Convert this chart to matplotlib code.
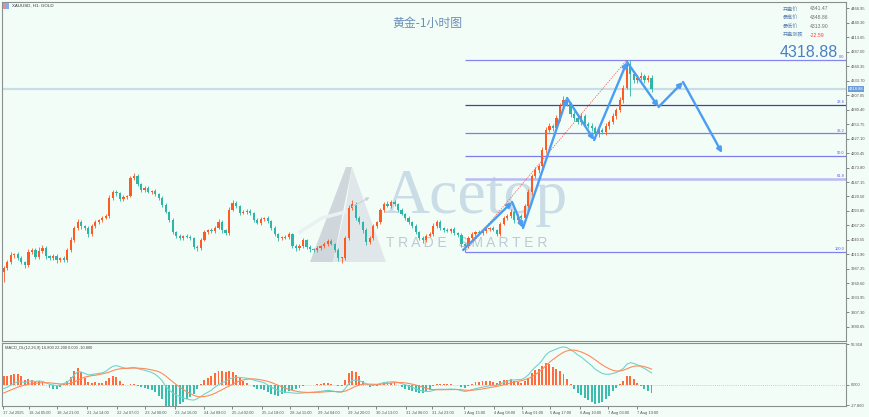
import numpy as np
import matplotlib
matplotlib.use("Agg")
import matplotlib.pyplot as plt
from matplotlib.patches import Polygon, Rectangle

# ---- values (2-hour candles) ----
first_open = 3981.7
closes = [
    3989.1, 4000.1, 4013.0, 4014.8, 4007.5, 4000.1, 3994.6, 4018.5, 4022.2, 4009.3,
    4020.3, 4025.8, 4011.1, 4007.5, 4011.1, 4003.8, 4007.5, 4003.8, 4022.2, 4040.5,
    4062.6, 4073.6, 4066.3, 4062.6, 4051.6, 4066.3, 4073.6, 4077.3, 4081.0, 4084.6,
    4117.7, 4128.8, 4126.9, 4115.9, 4119.6, 4121.4, 4154.5, 4158.2, 4143.5, 4132.4,
    4136.1, 4128.8, 4130.6, 4125.1, 4117.7, 4104.9, 4092.0, 4077.3, 4055.2, 4047.9,
    4044.2, 4047.9, 4046.0, 4044.2, 4027.7, 4025.8, 4040.5, 4055.2, 4058.9, 4057.1,
    4062.6, 4073.6, 4058.9, 4053.4, 4095.7, 4108.5, 4103.0, 4090.2, 4092.0, 4093.8,
    4090.2, 4077.3, 4071.8, 4079.1, 4081.0, 4075.5, 4062.6, 4051.6, 4044.2, 4044.2,
    4046.0, 4051.6, 4029.5, 4025.8, 4029.5, 4040.5, 4027.7, 4024.0, 4022.2, 4025.8,
    4029.5, 4033.2, 4038.7, 4033.2, 4022.2, 4007.5, 4007.5, 4044.2, 4099.4, 4106.7,
    4081.0, 4073.6, 4058.9, 4036.7, 4044.2, 4066.3, 4073.6, 4095.7, 4106.7, 4103.0,
    4110.4, 4106.7, 4095.7, 4088.3, 4081.0, 4073.6, 4066.3, 4055.2, 4044.2, 4040.5,
    4047.9, 4051.6, 4066.3, 4073.6, 4062.6, 4058.9, 4057.1, 4060.8, 4053.4, 4049.7,
    4033.2, 4029.5, 4044.2, 4051.6, 4055.2, 4053.4, 4057.1, 4060.8, 4062.6, 4058.9,
    4051.6, 4069.9, 4081.0, 4084.6, 4092.0, 4077.3, 4084.6, 4081.0, 4103.0, 4128.8,
    4158.2, 4169.2, 4176.5, 4206.0, 4242.7, 4250.1, 4246.4, 4264.8, 4286.9, 4297.9,
    4290.5, 4272.1, 4264.8, 4257.4, 4268.5, 4253.8, 4250.1, 4246.4, 4235.4, 4242.7,
    4239.0, 4250.1, 4257.4, 4268.5, 4279.5, 4297.9, 4320.0, 4364.0, 4345.7, 4334.6,
    4338.3, 4342.0, 4334.6, 4338.3, 4318.9]

upper_wick = [
    4, 3, 5, 2, 4, 3, 2, 6, 3, 4,
    8, 5, 3, 2, 4, 3, 2, 3, 4, 5,
    4, 6, 3, 2, 3, 4, 3, 2, 4, 3,
    5, 4, 3, 2, 3, 2, 4, 5.5, 3, 2,
    3, 4, 2, 3, 2, 3, 4, 2, 3, 2,
    3, 2, 4, 3, 2, 3, 4, 3, 2, 3,
    4, 6, 3, 2, 5, 6, 3, 2, 3, 4,
    3, 2, 3, 4, 2, 3, 2, 3, 2, 3,
    4, 3, 2, 3, 4, 3, 2, 3, 2, 3,
    2, 3, 4, 3, 2, 3, 2, 4, 5, 8,
    4, 3, 2, 3, 4, 3, 2, 4, 3, 5,
    4, 3, 2, 3, 2, 3, 2, 3, 2, 3,
    4, 3, 5, 4, 3, 2, 3, 2, 3, 2,
    3, 2, 4, 3, 2, 3, 4, 3, 2, 3,
    2, 4, 3, 4, 5, 3, 4, 3, 4, 5,
    4, 5, 4, 6, 5, 6, 4, 5, 6, 7.3,
    5, 4, 6, 4, 6, 4, 3, 5, 4, 6,
    4, 5, 4, 5, 4, 6, 5, 7.4, 8, 6,
    5, 7, 4, 6, 5]

lower_wick = [
    18, 4, 3, 5, 3, 4, 5, 3, 4, 3,
    4, 3, 5, 4, 3, 6, 4, 3, 4, 3,
    3, 4, 5, 3, 6, 4, 3, 4, 3, 2,
    3, 4, 5, 3, 4, 3, 2, 4, 3, 4,
    3, 2, 4, 3, 4, 3, 2, 3, 4, 3,
    4, 3, 2, 3, 4, 5, 3, 2, 3, 4,
    3, 2, 5, 4, 3, 2, 4, 3, 2, 3,
    4, 3, 2, 3, 4, 3, 4, 3, 5, 3,
    2, 3, 4, 5, 3, 4, 3, 5, 3, 4,
    3, 4, 3, 2, 4, 5, 9, 3, 4, 3,
    4, 3, 5, 6, 3, 4, 3, 4, 3, 2,
    3, 4, 3, 2, 4, 3, 4, 3, 4, 5,
    3, 2, 4, 3, 4, 3, 2, 4, 3, 4,
    5, 11, 3, 4, 3, 2, 3, 4, 3, 2,
    4, 3, 2, 3, 4, 5, 3, 4, 3, 4,
    5, 4, 6, 5, 6, 4, 5, 4, 6, 5,
    4, 6, 5, 4, 6, 5, 4, 6, 9, 5,
    4, 5, 6, 4, 5, 4, 6, 2, 40, 5,
    6, 4, 5, 4, 6]

# MACD_DL(12,26,9): DIF and DEA lines
dif = [
    -5, -3, 0, 2.5, 4.5, 4.5, 3.5, 5, 5.5, 5,
    5.5, 5, 3, 1, 0, -1, 0, 2, 4, 8,
    14, 18.5, 18, 16, 14, 14.5, 15.5, 16, 17, 19,
    23, 26, 27, 25.5, 24, 23, 24, 24.5, 23, 21.5,
    20.5, 19, 17.5, 15, 11, 6, -2, -7, -11, -14,
    -16, -18, -19.5, -20.5, -21, -19, -16, -12.5, -10, -7,
    -3, 0.5, 3, 5, 8, 10, 10.5, 10.5, 10, 9.5,
    8.5, 7, 5.5, 4.5, 3, 0, -3, -5.5, -8, -9,
    -10, -10.5, -11, -11.5, -11.5, -11, -10.5, -10.5, -10, -9.5,
    -9, -8, -7.5, -8, -9, -10, -10, -5, 2, 6,
    7, 6, 4, 1.5, 0, 0, 0.5, 2, 3.5, 4,
    4.5, 4.5, 3.5, 2, 0.5, -1.5, -3, -5, -7, -8.5,
    -9, -9, -7.5, -6, -6, -6, -6, -5.5, -6, -6.5,
    -8, -9, -8, -6.5, -5, -4, -3, -2, -1, -0.5,
    -0.5, 1.5, 3.5, 5, 7, 7, 7.5, 7.5, 10, 14,
    20, 25, 29, 35, 42, 46, 48, 50, 52, 53,
    52, 49, 46, 42, 39, 35, 31, 27, 22, 19,
    16, 15, 15, 16, 17.5, 20, 23, 29, 31, 30,
    28, 25.5, 23, 20, 16.8]

dea = [
    -11, -9, -7, -5, -3, -1.5, 0, 1, 2, 2.5,
    3, 3.2, 3.2, 3, 2.5, 2, 1.5, 1.2, 1.5, 2.5,
    4, 6.5, 9, 11, 12, 13, 13.5, 14.5, 15.5, 16.5,
    18, 20, 21.5, 22.5, 23, 23.2, 23.3, 23.5, 23.5, 23.2,
    22.8, 22, 21, 20, 18.5, 16, 12.5, 8.5, 4.5, 0.5,
    -3, -6.5, -9.5, -12, -14.5, -16, -16.5, -16, -15, -13.5,
    -11.5, -9, -6.5, -4, -1.5, 1, 3.5, 5.5, 7, 8,
    8.5, 8.5, 8, 7.2, 6.3, 5, 3.5, 1.5, -0.5, -2.5,
    -4.5, -6, -7.5, -8.5, -9.5, -10, -10.3, -10.3, -10.3, -10.2,
    -10, -9.6, -9.2, -9, -9, -9.2, -9.4, -8.5, -6.5, -4,
    -1.8, 0, 1, 1.3, 1.2, 1, 0.9, 1.1, 1.6, 2.2,
    2.8, 3.3, 3.5, 3.4, 3, 2.2, 1.2, 0, -1.5, -3,
    -4.5, -5.8, -6.5, -6.6, -6.6, -6.5, -6.4, -6.2, -6.2, -6.2,
    -6.6, -7.2, -7.5, -7.3, -6.8, -6.2, -5.5, -4.6, -3.7, -2.8,
    -2, -1, 0.2, 1.5, 3, 4.2, 5.2, 6, 7.2, 9,
    11.5, 14.5, 18, 22, 27, 31.5, 35.5, 39, 42.5, 45.5,
    47.5, 48.5, 48.5, 47.5, 46, 44, 41.5, 38.5, 35, 31.5,
    28, 25, 22.5, 20.5, 19.5, 19.5, 20.5, 22.5, 24.5, 26,
    26.5, 26.5, 25.5, 24, 22.2]

# fibonacci retracement drawn from the Aug low to the Aug high
fib_low_bar, fib_low = 262.5, 4018.5
fib_high_bar, fib_high = 354.5, 4371.4
fib_levels = [0.0, 23.6, 38.2, 50.0, 61.8, 100.0]

# hand drawn projection arrows (bar index, price)
path_x = [261.5, 289.3, 295.5, 320.5, 335.9, 354.6, 372.5, 386.4, 408.6]
path_y = [4022.2, 4110.4, 4062.6, 4301.6, 4224.3, 4367.7, 4285.0, 4331.0, 4200.4]

last_price = 4318.88
price_ticks = [4466.95, 4440.30, 4413.65, 4387.00, 4360.35, 4333.70, 4307.05, 4280.40,
               4253.75, 4227.10, 4200.45, 4173.80, 4147.15, 4120.50, 4093.85, 4067.20,
               4040.55, 4013.90, 3987.25, 3960.60, 3933.95, 3907.30, 3880.65]
macd_ticks = [56.918, 0.0, -27.860]

time_ticks = [0, 15, 31, 48, 65, 81, 98, 114, 130, 147, 163, 179, 196, 212, 229, 244,
              262, 279, 295, 311, 328, 344, 360]
time_labels = ["17 Jul 2025", "18 Jul 05:00", "18 Jul 21:00", "21 Jul 14:00", "22 Jul 07:00",
               "23 Jul 00:00", "23 Jul 16:00", "24 Jul 09:00", "25 Jul 02:00", "25 Jul 18:00",
               "28 Jul 11:00", "29 Jul 04:00", "29 Jul 20:00", "30 Jul 13:00", "31 Jul 06:00",
               "31 Jul 23:00", "1 Aug 15:00", "4 Aug 08:00", "5 Aug 01:00", "5 Aug 17:00",
               "6 Aug 10:00", "7 Aug 03:00", "7 Aug 19:00"]

info_labels = ["开盘价", "最高价", "最低价", "开盘涨跌"]
info_values = ["4341.47", "4348.86", "4313.90", "-22.59"]

BG = "#f3fdf8"
UP = "#ff5a22"
DOWN = "#2db5a7"
SPINE = "#8a908d"
W, H = 870, 417


def fx(px):
    return px / W


def fy(py):
    return 1 - py / H


plt.rcParams['font.family'] = ['Liberation Sans', 'Noto Sans CJK SC', 'DejaVu Sans']

fig = plt.figure(figsize=(W / 100, H / 100), dpi=100, facecolor=BG)
ax = fig.add_axes([fx(2), fy(341), fx(846) - fx(2), fy(2) - fy(341)], facecolor=BG)
ax2 = fig.add_axes([fx(2), fy(406), fx(846) - fx(2), fy(343) - fy(406)], facecolor=BG)

# ---- candles ----
c = np.array(closes)
o = np.r_[first_open, c[:-1]]
x = np.arange(len(c)) * 2 + 0.5
hi = np.maximum(o, c) + np.array(upper_wick)
lo = np.minimum(o, c) - np.array(lower_wick)
col = np.where(c >= o, UP, DOWN)
ax.vlines(x, lo, hi, colors=col, lw=0.6, zorder=3)
ax.bar(x, np.maximum(np.abs(c - o), 1.0), bottom=np.minimum(o, c), width=1.25,
       color=col, lw=0, zorder=3)

ax.set_xlim(-0.5, 479)
ax.set_ylim(3854.9, 4478.0)

# current price line
ax.axhline(last_price, color="#c7dde8", lw=1.6, zorder=1)

# fibonacci levels
fib_cols = {0.0: "#8484f4", 23.6: "#44449c", 38.2: "#7d7df0", 50.0: "#7d7df0",
            61.8: "#babaf6", 100.0: "#8080f2"}
for lv in fib_levels:
    p = fib_high - (fib_high - fib_low) * lv / 100
    ax.hlines(p, fib_low_bar, 479, color=fib_cols[lv], lw=1.8 if lv == 61.8 else 0.9, zorder=2)
    ax.text(478, p + 1.5, f"{lv:.1f}", ha="right", va="bottom", fontsize=2.9,
            color="#5a5ae6", zorder=5)
ax.plot([fib_low_bar, fib_high_bar], [fib_low, fib_high], color="#ff4b4b", lw=0.5,
        ls=(0, (2, 1.5)), zorder=4)

# projection arrows
for i in range(len(path_x) - 1):
    ax.annotate("", xy=(path_x[i + 1], path_y[i + 1]), xytext=(path_x[i], path_y[i]),
                arrowprops=dict(arrowstyle="-|>", color="#4a9ef2", lw=1.7,
                                mutation_scale=7, shrinkA=0, shrinkB=0), zorder=6)

# watermark
ax.text(fx(476), fy(213), "Acetop", transform=fig.transFigure, ha="center", va="baseline",
        fontsize=46, family="Liberation Serif", color="#cadce6", zorder=0)
ax.text(fx(467), fy(247), "T R A D E   S M A R T E R", transform=fig.transFigure,
        ha="center", va="baseline", fontsize=10, color="#bdcad3", zorder=0)
logo = [
    ([(310, 262), (346, 167), (352, 167), (333, 262)], "#cfd7dc"),
    ([(352, 167), (386, 262), (333, 262), (346, 205)], "#e0e7ea"),
]
for pts, fc in logo:
    ax.add_patch(Polygon([(fx(a), fy(b)) for a, b in pts], closed=True, fc=fc, ec="none",
                         transform=fig.transFigure, zorder=0))
ax.plot([fx(300), fx(322), fx(345)], [fy(232), fy(218), fy(212)], color="#eaf1f2", lw=2.5,
        transform=fig.transFigure, zorder=0)
ax.annotate("", xy=(fx(372), fy(196)), xytext=(fx(350), fy(208)), xycoords=fig.transFigure,
            arrowprops=dict(arrowstyle="-|>", color="#c9d3d9", lw=0.8, mutation_scale=5))

# axes styling
for a in (ax, ax2):
    for s in a.spines.values():
        s.set_color(SPINE)
        s.set_linewidth(0.8)
    a.yaxis.tick_right()
    a.tick_params(axis="y", direction="out", length=2.5, width=0.5, pad=1,
                  labelsize=2.9, colors="#555555")
ax.set_xticks([])
ax.set_yticks(price_ticks)
ax.set_yticklabels([f"{v:.2f}" for v in price_ticks])

# ---- MACD ----
dif_a = np.array(dif)
dea_a = np.array(dea)
hist = 2 * (dif_a - dea_a)
ax2.bar(x, hist, width=1.1, color=np.where(hist >= 0, "#ff6b3d", "#3cbcae"), lw=0, zorder=2)
ax2.plot(x, dif_a, color="#72d3cb", lw=0.8, zorder=3)
ax2.plot(x, dea_a, color="#ff8a5c", lw=0.8, zorder=3)
ax2.axhline(0, color="#8fd0d6", lw=0.6, ls=(0, (1, 1.5)), zorder=1)
ax2.set_xlim(-0.5, 479)
ax2.set_ylim(-29.2, 58.4)
ax2.set_yticks(macd_ticks)
ax2.set_yticklabels([f"{v:.3f}" for v in macd_ticks])
ax2.set_xticks(time_ticks)
ax2.set_xticklabels(time_labels, ha="left")
ax2.tick_params(axis="x", direction="out", length=2, width=0.5, pad=1.5,
                labelsize=2.9, colors="#555555")
ax2.text(0.003, 0.96, f"MACD_DL(12,26,9) {dif[-1]:.3f} {dea[-1]:.3f} 0.000 {2 * (dif[-1] - dea[-1]):.3f}",
         transform=ax2.transAxes, ha="left", va="top", fontsize=2.9, color="#444444")

# ---- header texts ----
fig.add_artist(Rectangle((fx(3), fy(9)), fx(3), fy(3) - fy(9), fc="#f08a8a", ec="none"))
fig.add_artist(Rectangle((fx(6), fy(9)), fx(3), fy(3) - fy(9), fc="#86aee6", ec="none"))
fig.text(fx(12), fy(6), "XAUUSD, H1: GOLD", ha="left", va="center", fontsize=3.2, color="#333333")
fig.text(fx(427), fy(23), "黄金-1小时图", ha="center", va="center", fontsize=8.6,
         family=["Noto Sans CJK SC"], color="#6b8fb8")

for i, (lab, val) in enumerate(zip(info_labels, info_values)):
    yy = fy(9 + i * 8.7)
    fig.text(fx(783), yy, lab, ha="left", va="center", fontsize=3.7,
             family=["Noto Sans CJK SC"], color="#5d82ad")
    fig.text(fx(810), yy, val, ha="left", va="center", fontsize=3.7,
             color="#ff3b3b" if val.startswith("-") else "#707070")
fig.text(fx(838), fy(57), f"{last_price:.2f}", ha="right", va="baseline", fontsize=11.5,
         color="#4b7fc2")

# price marker on the right scale
ax.annotate(f"{last_price:.2f}", xy=(1, last_price), xycoords=("axes fraction", "data"),
            xytext=(2, 0), textcoords="offset points", ha="left", va="center",
            fontsize=2.9, color="white", annotation_clip=False,
            bbox=dict(boxstyle="square,pad=0.25", fc="#6c9dd8", ec="none"))

fig.savefig("out.png", dpi=100, facecolor=BG)
